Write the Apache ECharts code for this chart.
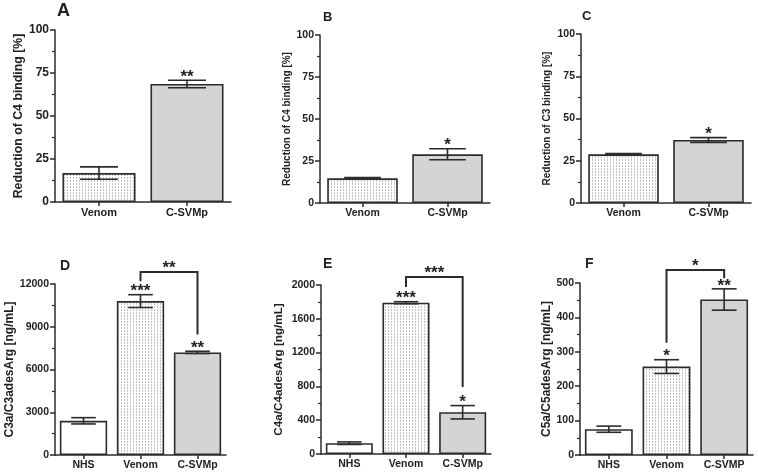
<!DOCTYPE html>
<html><head><meta charset="utf-8">
<script src="https://cdn.jsdelivr.net/npm/echarts@6/dist/echarts.min.js"></script>
<style>html,body{margin:0;padding:0;background:#fff}#c{width:758px;height:475px}</style>
</head><body><div id="c"></div>
<script>
// ---------- data ----------
const catsTop = ['Venom', 'C-SVMp'];
const catsDE = ['NHS', 'Venom', 'C-SVMp'];
const catsF = ['NHS', 'Venom', 'C-SVMP'];

const aMean = [16.8, 68.6], aSem = [3.6, 2.2], aSig = ['', '**'];
const bMean = [14.7, 29.0], bSem = [0.4, 3.3], bSig = ['', '*'];
const cMean = [28.8, 37.3], cSem = [0.4, 1.4], cSig = ['', '*'];
const dMean = [2400, 10800, 7200], dSem = [220, 450, 80], dSig = ['', '***', '**'];
const eMean = [128, 1790, 494], eSem = [15, 12, 79], eSig = ['', '***', '*'];
const fMean = [75, 257, 452], fSem = [9, 20, 31], fSig = ['', '*', '**'];

// brackets: [fromCat, toCat, leftFoot, top, rightFoot]
const dBracket = [1, 2, 12200, 12850, 8450], dBracketSig = '**';
const eBracket = [1, 2, 1976, 2095, 793], eBracketSig = '***';
const fBracket = [1, 2, 326, 538, 514], fBracketSig = '*';

// y axis ticks (max, step)
const yMaxTop = 100, yStepTop = 25;
const yMaxD = 12000, yStepD = 3000;
const yMaxE = 2000, yStepE = 400;
const yMaxF = 500, yStepF = 100;

const titleA = 'Reduction of C4 binding [%]';
const titleB = 'Reduction of C4 binding [%]';
const titleC = 'Reduction of C3 binding [%]';
const titleD = 'C3a/C3adesArg [ng/mL]';
const titleE = 'C4a/C4adesArg [ng/mL]';
const titleF = 'C5a/C5adesArg [ng/mL]';
const letters = ['A', 'B', 'C', 'D', 'E', 'F'];

// ---------- style ----------
const FF = '"Liberation Sans", Arial, sans-serif';
const INK = '#2b2b2b';
const pc = document.createElement('canvas'); pc.width = 3; pc.height = 3;
const pctx = pc.getContext('2d');
pctx.fillStyle = '#ffffff'; pctx.fillRect(0, 0, 3, 3);
pctx.fillStyle = '#c2c2c2'; pctx.fillRect(1, 0, 1, 2);
const dotted = { image: pc, repeat: 'repeat' };
const fills = { 'NHS': '#ffffff', 'Venom': dotted, 'C-SVMp': '#d4d4d4', 'C-SVMP': '#d4d4d4' };
const BAR_FRAC = 0.83;

const panels = [
  { cats: catsTop, mean: aMean, sem: aSem, sig: aSig, max: yMaxTop, step: yStepTop, title: titleA,
    grid: { left: 55, top: 30, width: 176, height: 172 }, tick: 12, cat: 11, tfs: 12.3, gap: 28,
    letter: { x: 57, y: 11, fs: 18 } },
  { cats: catsTop, mean: bMean, sem: bSem, sig: bSig, max: yMaxTop, step: yStepTop, title: titleB,
    grid: { left: 320, top: 35, width: 170, height: 168 }, tick: 10.5, cat: 10.5, tfs: 10, gap: 28,
    letter: { x: 323, y: 17, fs: 13 } },
  { cats: catsTop, mean: cMean, sem: cSem, sig: cSig, max: yMaxTop, step: yStepTop, title: titleC,
    grid: { left: 581, top: 34, width: 170, height: 169 }, tick: 10.5, cat: 10.5, tfs: 10, gap: 29,
    letter: { x: 582, y: 16, fs: 13 } },
  { cats: catsDE, mean: dMean, sem: dSem, sig: dSig, max: yMaxD, step: yStepD, title: titleD,
    grid: { left: 55, top: 284, width: 171, height: 171 }, tick: 10.5, cat: 10.5, tfs: 12, gap: 37,
    letter: { x: 60, y: 266, fs: 14 }, bracket: dBracket, bsig: dBracketSig },
  { cats: catsDE, mean: eMean, sem: eSem, sig: eSig, max: yMaxE, step: yStepE, title: titleE,
    grid: { left: 321, top: 285, width: 170, height: 169 }, tick: 10.5, cat: 10.5, tfs: 11.7, gap: 36,
    letter: { x: 323, y: 264, fs: 14 }, bracket: eBracket, bsig: eBracketSig },
  { cats: catsF, mean: fMean, sem: fSem, sig: fSig, max: yMaxF, step: yStepF, title: titleF,
    grid: { left: 580, top: 283, width: 173, height: 172 }, tick: 10.5, cat: 10.5, tfs: 12, gap: 25,
    letter: { x: 585, y: 264, fs: 14 }, bracket: fBracket, bsig: fBracketSig }
];

const grids = [], xAxes = [], yAxes = [], series = [], graphics = [];
panels.forEach((p, k) => {
  grids.push(Object.assign({ containLabel: false, outerBoundsMode: 'none' }, p.grid));
  xAxes.push({
    type: 'category', gridIndex: k, data: p.cats,
    axisLine: { show: true, lineStyle: { color: INK, width: 1.5 } },
    axisTick: { show: true, alignWithLabel: true, length: 4, lineStyle: { color: INK, width: 1.5 } },
    axisLabel: { fontFamily: FF, fontWeight: 'bold', fontSize: p.cat, color: '#222', margin: 5 },
    splitLine: { show: false }
  });
  yAxes.push({
    type: 'value', gridIndex: k, min: 0, max: p.max, interval: p.step,
    axisLine: { show: true, lineStyle: { color: INK, width: 1.5 } },
    axisTick: { show: true, length: 5, lineStyle: { color: INK, width: 1.5 } },
    minorTick: { show: true, splitNumber: 2, length: 3, lineStyle: { color: INK, width: 1.2 } },
    splitLine: { show: false }, minorSplitLine: { show: false },
    axisLabel: { fontFamily: FF, fontWeight: 'bold', fontSize: p.tick, color: '#222', margin: 6,
      formatter: function (v) { return String(v); } },
    name: p.title, nameLocation: 'middle', nameGap: p.gap, nameRotate: 90,
    nameTextStyle: { fontFamily: FF, fontWeight: 'bold', fontSize: p.tfs, color: '#222' }
  });
  series.push({
    type: 'bar', xAxisIndex: k, yAxisIndex: k, barWidth: (BAR_FRAC * 100) + '%', z: 2,
    data: p.mean.map((m, i) => ({ value: m, itemStyle: { color: fills[p.cats[i]] } })),
    itemStyle: { borderColor: INK, borderWidth: 1.6 },
    emphasis: { disabled: true }, silent: true, animation: false
  });
  const sig = p.sig;
  series.push({
    type: 'custom', xAxisIndex: k, yAxisIndex: k, clip: false, silent: true, animation: false, z: 10,
    data: p.mean.map((m, i) => [i, m, p.sem[i]]),
    renderItem: function (params, api) {
      const i = api.value(0), m = api.value(1), s = api.value(2);
      const top = api.coord([i, m + s]), bot = api.coord([i, m - s]);
      const bw = api.size([1, 0])[0] * BAR_FRAC;
      const hw = bw * 0.26;
      const ls = { stroke: INK, lineWidth: 1.6 };
      const ch = [
        { type: 'line', z2: 10, shape: { x1: top[0], y1: top[1], x2: bot[0], y2: bot[1] }, style: ls },
        { type: 'line', z2: 10, shape: { x1: top[0] - hw, y1: top[1], x2: top[0] + hw, y2: top[1] }, style: ls },
        { type: 'line', z2: 10, shape: { x1: bot[0] - hw, y1: bot[1], x2: bot[0] + hw, y2: bot[1] }, style: ls }
      ];
      const t = sig[params.dataIndex];
      if (t) ch.push({ type: 'text', style: { text: t, x: top[0], y: top[1] - 3, textAlign: 'center',
        textVerticalAlign: 'middle', font: 'bold 17px ' + FF, fill: '#222' } });
      return { type: 'group', children: ch };
    }
  });
  if (p.bracket) {
    const bs = p.bsig;
    series.push({
      type: 'custom', xAxisIndex: k, yAxisIndex: k, clip: false, silent: true, animation: false, z: 10,
      data: [p.bracket],
      renderItem: function (params, api) {
        const a = api.value(0), b = api.value(1);
        const p1 = api.coord([a, api.value(2)]), p2 = api.coord([a, api.value(3)]);
        const p3 = api.coord([b, api.value(3)]), p4 = api.coord([b, api.value(4)]);
        return { type: 'group', children: [
          { type: 'polyline', shape: { points: [p1, p2, p3, p4] }, style: { stroke: INK, lineWidth: 2, fill: null } },
          { type: 'text', style: { text: bs, x: (p2[0] + p3[0]) / 2, y: p2[1] - 4, textAlign: 'center',
            textVerticalAlign: 'middle', font: 'bold 17px ' + FF, fill: '#222' } }
        ] };
      }
    });
  }
  graphics.push({ type: 'text', x: p.letter.x, y: p.letter.y, silent: true,
    style: { text: letters[k], font: 'bold ' + p.letter.fs + 'px ' + FF, fill: '#222', textVerticalAlign: 'middle' } });
});

const chart = echarts.init(document.getElementById('c'), null, { renderer: 'canvas' });
chart.setOption({
  animation: false, backgroundColor: '#ffffff',
  grid: grids, xAxis: xAxes, yAxis: yAxes, series: series, graphic: graphics
});
</script></body></html>
